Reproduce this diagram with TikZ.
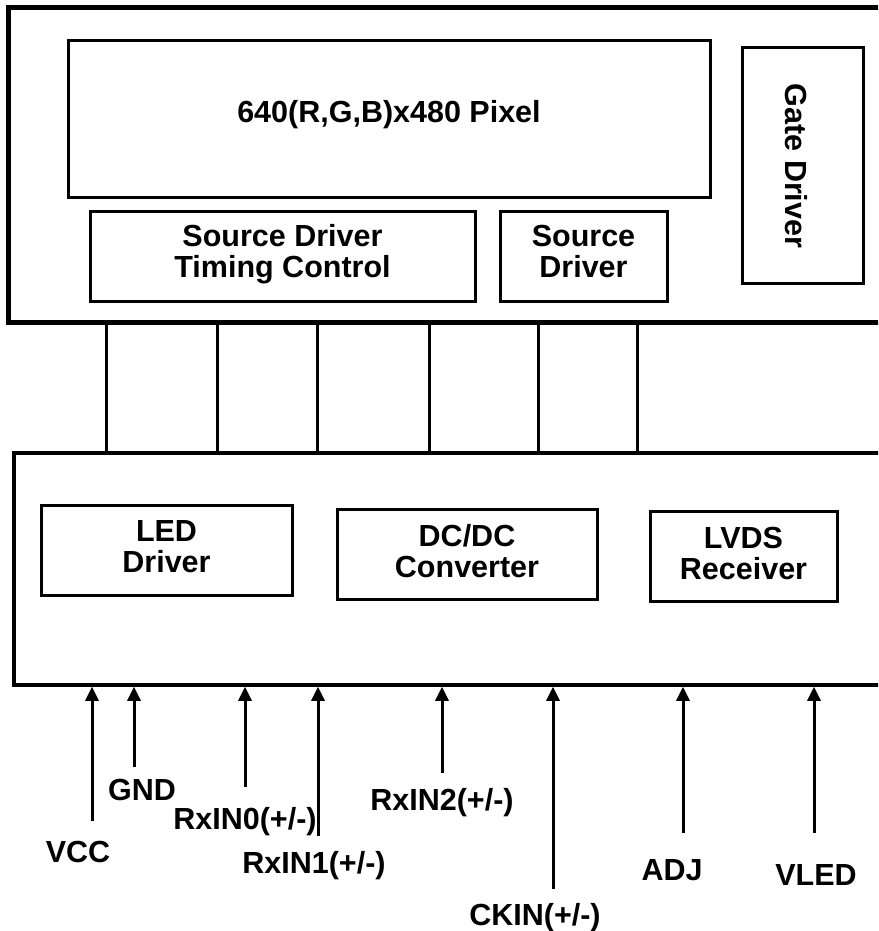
\documentclass[tikz,border=0pt]{standalone}
\usepackage{fontspec}
\setmainfont{Liberation Sans}
\usetikzlibrary{arrows.meta}
\newcommand\lblfont{\fontsize{30.5}{31}\selectfont\bfseries}
\begin{document}
\begin{tikzpicture}[x=1pt,y=-1pt,
  bigbox/.style={draw, inner sep=0pt},
  blk/.style={draw, line width=3pt, inner sep=0pt},
  txt/.style={align=center, inner sep=0pt, font=\lblfont},
  link/.style={line width=3pt},
  sig/.style={line width=3pt, -{Triangle[length=14pt,width=13pt]}}]
\clip (0,0) rectangle (878,931);
\fill[white] (0,0) rectangle (878,931);
% outer boxes
\node[bigbox, line width=5pt, minimum width=897pt, minimum height=314pt] (panel) at (456.5,165) {};
\node[bigbox, line width=3.5pt, minimum width=891pt, minimum height=232pt] (board) at (459.5,569) {};
% inner blocks
\node[blk, minimum width=642pt, minimum height=156pt] (pixel) at (389,119) {};
\node[txt, anchor=base] (pixeltxt) at (389,122) {640(R,G,B)x480 Pixel};
\node[blk, minimum width=121pt, minimum height=235pt] (gate) at (802.5,165.5) {};
\node[txt, rotate=-90] (gatetxt) at (796,166) {Gate Driver};
\node[blk, minimum width=385pt, minimum height=90pt] (sdtc) at (282.5,256) {};
\node[txt] (sdtctxt) at (282.5,254.5) {Source Driver\\Timing Control};
\node[blk, minimum width=167pt, minimum height=90pt] (sd) at (583.5,256) {};
\node[txt] (sdtxt) at (583.5,251.5) {Source\\Driver};
\node[blk, minimum width=251pt, minimum height=90pt] (led) at (166.5,550) {};
\node[txt] (ledtxt) at (166.5,547) {LED\\Driver};
\node[blk, minimum width=260pt, minimum height=90pt] (dcdc) at (467,554) {};
\node[txt] (dcdctxt) at (467,551) {DC/DC\\Converter};
\node[blk, minimum width=187pt, minimum height=90pt] (lvds) at (743.5,556) {};
\node[txt] (lvdstxt) at (743.5,553) {LVDS\\Receiver};
% links between panel and board
\foreach \xx in {106,217,317,429,538,637}
  \draw[link] (\xx,0 |- panel.south) -- (\xx,0 |- board.north);
% signal labels
\node[txt, anchor=base] (vcc) at (78,862) {VCC};
\node[txt, anchor=base] (gnd) at (142,800) {GND};
\node[txt, anchor=base] (rx0) at (245,829) {RxIN0(+/-)};
\node[txt, anchor=base] (rx1) at (314,873) {RxIN1(+/-)};
\node[txt, anchor=base] (rx2) at (442,810) {RxIN2(+/-)};
\node[txt, anchor=base] (ckin) at (535,925) {CKIN(+/-)};
\node[txt, anchor=base] (adj) at (672,880) {ADJ};
\node[txt, anchor=base] (vled) at (816,885) {VLED};
% arrow start points
\coordinate (svcc) at (92,821);
\coordinate (sgnd) at (134,767);
\coordinate (srx0) at (245,787);
\coordinate (srx1) at (318,836);
\coordinate (srx2) at (442,773);
\coordinate (sckin) at (553,889);
\coordinate (sadj) at (683,833);
\coordinate (svled) at (814,833);
\foreach \s in {svcc,sgnd,srx0,srx1,srx2,sckin,sadj,svled}
  \draw[sig] (\s) -- (\s |- board.south);
\end{tikzpicture}
\end{document}
